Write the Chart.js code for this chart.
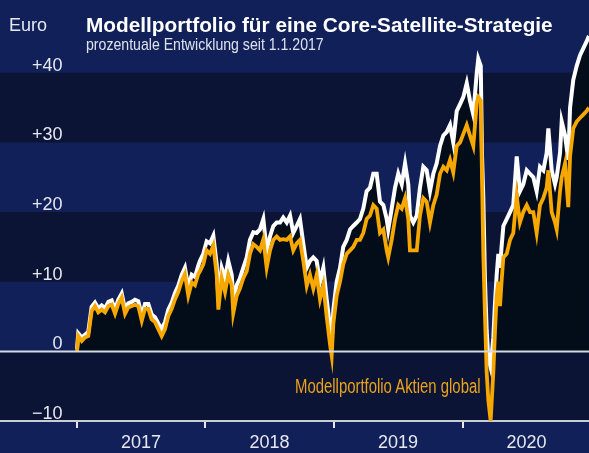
<!DOCTYPE html>
<html lang="de">
<head>
<meta charset="utf-8">
<script src="https://cdn.jsdelivr.net/npm/chart.js@4.4.1/dist/chart.umd.min.js"></script>
<style>
  html, body { margin: 0; padding: 0; background: #112058; }
  #wrap { position: relative; width: 589px; height: 453px; overflow: hidden; background: #112058; }
  #chart { position: absolute; left: 0; top: 0; }
  .txt { position: absolute; white-space: nowrap; line-height: 1; transform-origin: 0 0; }
  #euro { left: 9px; top: 15px; font: 18px "Liberation Sans", sans-serif; color: #e6e8f0; }
  #title { left: 86px; top: 13px; font: bold 21px "Liberation Sans", sans-serif; color: #ffffff; transform: scaleX(0.99); }
  #sub { left: 86px; top: 35px; font: 17px "Liberation Sans", sans-serif; color: #dfe2ec; transform: scaleX(0.83); }
  #lbl { left: 295px; top: 375px; font: 20px "Liberation Sans", sans-serif; color: #eaa21c; transform: scaleX(0.745); }
</style>
</head>
<body>
<div id="wrap">
  <canvas id="chart" width="589" height="453"></canvas>
  <div class="txt" id="euro">Euro</div>
  <div class="txt" id="title">Modellportfolio für eine Core-Satellite-Strategie</div>
  <div class="txt" id="sub">prozentuale Entwicklung seit 1.1.2017</div>
  <div class="txt" id="lbl">Modellportfolio Aktien global</div>
</div>
<script>
// Prozentuale Entwicklung seit 1.1.2017 (Zeit als Dezimaljahr)
const dates = [
  2017.000, 2017.010, 2017.037, 2017.062, 2017.088, 2017.114, 2017.140, 2017.166, 2017.192, 2017.218,
  2017.244, 2017.270, 2017.296, 2017.321, 2017.348, 2017.374, 2017.399, 2017.426, 2017.451, 2017.477,
  2017.504, 2017.529, 2017.555, 2017.581, 2017.607, 2017.633, 2017.659, 2017.685, 2017.711, 2017.737,
  2017.763, 2017.788, 2017.815, 2017.840, 2017.866, 2017.893, 2017.918, 2017.944, 2017.957, 2017.983,
  2018.009, 2018.035, 2018.061, 2018.087, 2018.100, 2018.126, 2018.152, 2018.177, 2018.204, 2018.216,
  2018.243, 2018.268, 2018.294, 2018.321, 2018.346, 2018.372, 2018.398, 2018.424, 2018.450, 2018.476,
  2018.502, 2018.528, 2018.554, 2018.580, 2018.605, 2018.632, 2018.658, 2018.683, 2018.710, 2018.735,
  2018.761, 2018.788, 2018.813, 2018.839, 2018.865, 2018.891, 2018.917, 2018.943, 2018.969, 2018.982,
  2018.995, 2019.021, 2019.047, 2019.072, 2019.099, 2019.125, 2019.150, 2019.177, 2019.202, 2019.228,
  2019.254, 2019.280, 2019.306, 2019.332, 2019.358, 2019.384, 2019.410, 2019.422, 2019.449, 2019.475,
  2019.500, 2019.527, 2019.553, 2019.578, 2019.591, 2019.617, 2019.644, 2019.669, 2019.695, 2019.721,
  2019.747, 2019.773, 2019.799, 2019.825, 2019.851, 2019.877, 2019.903, 2019.928, 2019.955, 2019.981,
  2020.006, 2020.033, 2020.058, 2020.084, 2020.111, 2020.123, 2020.142, 2020.152, 2020.162, 2020.175,
  2020.188, 2020.201, 2020.219, 2020.240, 2020.253, 2020.266, 2020.279, 2020.292, 2020.304, 2020.318,
  2020.344, 2020.370, 2020.395, 2020.422, 2020.447, 2020.473, 2020.500, 2020.525, 2020.551, 2020.577,
  2020.603, 2020.629, 2020.655, 2020.668, 2020.694, 2020.720, 2020.733, 2020.759, 2020.772, 2020.798,
  2020.823, 2020.837, 2020.862, 2020.889, 2020.914, 2020.940, 2020.966, 2020.984
];

// weisse Linie: Modellportfolio Core-Satellite
const coreSatellite = [
  0.3, 2.6, 2.0, 2.4, 2.8, 6.4, 7.0, 6.2, 6.6, 6.2,
  7.1, 7.3, 6.0, 7.4, 8.3, 6.0, 6.9, 7.1, 7.4, 7.2,
  5.1, 6.8, 6.8, 5.3, 4.9, 4.0, 3.2, 4.2, 6.0, 7.0,
  8.4, 9.4, 11.0, 12.0, 9.2, 11.0, 10.7, 12.3, 13.0, 14.0,
  15.8, 15.5, 16.6, 12.5, 7.5, 12.0, 10.5, 13.0, 11.0, 7.5,
  9.5, 10.5, 12.0, 13.5, 16.0, 17.1, 17.0, 17.5, 19.0, 14.5,
  16.5, 18.0, 18.5, 18.5, 19.2, 18.5, 19.5, 17.0, 18.0, 19.0,
  15.5, 12.0, 13.0, 13.5, 13.0, 10.0, 12.0, 7.5, 3.5, 1.4,
  6.0, 10.0, 12.0, 15.0, 16.0, 17.5, 18.0, 18.5, 19.0, 20.5,
  23.0, 23.5, 25.5, 25.5, 21.5, 21.0, 19.0, 17.5, 20.5, 23.5,
  25.5, 24.0, 27.0, 24.0, 19.5, 18.5, 19.5, 23.5, 26.5, 26.0,
  23.0, 25.5, 27.0, 29.5, 31.0, 31.5, 32.5, 30.0, 34.5, 35.5,
  36.5, 38.5, 36.0, 34.0, 40.0, 42.0, 41.0, 28.0, 22.0, 10.0,
  3.0, -1.0, -2.3, 2.0, 7.0, 11.0, 14.0, 12.0, 15.0, 18.0,
  19.0, 20.0, 21.0, 28.0, 23.0, 24.0, 26.0, 25.5, 25.0, 23.0,
  26.5, 26.0, 28.5, 32.0, 26.0, 24.0, 25.0, 28.5, 33.0, 31.0,
  27.5, 35.0, 39.0, 41.0, 42.5, 43.5, 44.5, 45.3
];

// orange Linie: Modellportfolio Aktien global
const aktienGlobal = [
  0.0, 2.2, 1.5, 2.0, 2.2, 5.8, 6.5, 5.6, 6.0, 5.6,
  6.5, 6.7, 5.4, 6.8, 7.7, 5.4, 6.3, 6.5, 6.7, 6.5,
  4.4, 6.1, 6.1, 4.6, 4.2, 3.2, 2.2, 3.2, 5.1, 6.1,
  7.5, 8.5, 10.1, 11.1, 8.0, 9.9, 9.5, 11.1, 11.5, 12.5,
  14.5, 14.0, 15.2, 11.0, 6.0, 10.5, 8.5, 11.0, 9.5, 5.5,
  8.0, 9.0, 10.5, 11.5, 14.0, 15.4, 15.0, 14.5, 16.1, 12.0,
  14.5, 16.0, 16.5, 16.0, 16.1, 16.0, 16.5, 14.5, 15.5, 16.0,
  13.0, 9.4, 11.0, 9.0, 11.0, 7.5, 9.5, 5.0, 1.0, -0.6,
  4.0, 8.0, 10.0, 12.5, 14.0, 14.5, 15.0, 16.0, 16.0, 17.0,
  19.0, 19.5, 21.0, 20.5, 17.0, 17.5, 14.5, 13.5, 16.0, 19.0,
  21.0, 20.5, 22.0, 19.0, 14.5, 14.5, 14.5, 19.5, 22.0, 21.5,
  18.5, 21.0, 22.5, 25.5, 26.5, 26.0, 27.5, 25.7, 29.5, 30.0,
  31.2, 32.5, 31.0, 29.5, 35.7, 36.5, 36.0, 24.7, 14.0, 5.0,
  -3.0, -7.0, -10.0, -3.0, 3.0, 8.0, 10.0, 6.5, 10.0, 13.5,
  14.0, 16.0, 17.0, 22.3, 18.5, 20.0, 21.0, 20.0, 20.0, 17.0,
  21.0, 22.0, 23.5, 26.0, 20.0, 18.5, 17.5, 23.0, 25.0, 27.0,
  20.7, 28.0, 32.0, 33.0, 33.5, 34.0, 34.5, 35.0
];

const yearTicks = [2017, 2018, 2019, 2020];
const yTicks = [-10, 0, 10, 20, 30, 40];

// dunkle Querstreifen hinter dem Chart, Nulllinie darüber
const bandsPlugin = {
  id: 'bands',
  beforeDraw(chart) {
    const { ctx, width, scales: { y } } = chart;
    ctx.save();
    ctx.fillStyle = '#0b1434';
    [[30, 40], [10, 20], [-10, 0]].forEach(([lo, hi]) => {
      const top = y.getPixelForValue(hi);
      const bot = y.getPixelForValue(lo);
      ctx.fillRect(0, top, width, bot - top);
    });
    ctx.restore();
  },
  afterDatasetsDraw(chart) {
    const { ctx, width, scales: { y } } = chart;
    const py = Math.round(y.getPixelForValue(0)) + 0.5;
    ctx.save();
    ctx.strokeStyle = '#d4d8e4';
    ctx.lineWidth = 2;
    ctx.beginPath();
    ctx.moveTo(0, py);
    ctx.lineTo(width, py);
    ctx.stroke();
    ctx.restore();
  }
};

const toPoints = arr => dates.map((x, i) => ({ x, y: arr[i] }));

new Chart(document.getElementById('chart'), {
  type: 'line',
  data: {
    datasets: [
      { label: 'Modellportfolio Core-Satellite', data: toPoints(coreSatellite), borderColor: '#ffffff', borderWidth: 4,
        fill: 'origin', backgroundColor: '#030c19', pointRadius: 0, tension: 0, order: 2 },
      { label: 'Modellportfolio Aktien global', data: toPoints(aktienGlobal), borderColor: '#f7a800', borderWidth: 3.8,
        fill: false, pointRadius: 0, tension: 0, order: 1 },
    ],
  },
  options: {
    responsive: false,
    animation: false,
    devicePixelRatio: 1,
    layout: { padding: 0 },
    plugins: { legend: { display: false }, tooltip: { enabled: false } },
    scales: {
      x: {
        type: 'linear',
        min: 2016.4008,
        max: 2020.9844,
        afterBuildTicks: s => { s.ticks = yearTicks.map(v => ({ value: v })); },
        afterFit: s => { s.height = 32; s.paddingLeft = 0; s.paddingRight = 0; },
        grid: { drawOnChartArea: false, drawTicks: true, tickLength: 7, color: '#e8eaf0', lineWidth: 2 },
        border: { display: true, color: '#c9cdd8', width: 2 },
        ticks: {
          color: '#e6e8f0', font: { family: 'Liberation Sans', size: 18 },
          labelOffset: 64, padding: 4, maxRotation: 0, autoSkip: false,
          callback: v => String(v),
        },
      },
      y: {
        min: -10,
        max: 50.45,
        afterBuildTicks: s => { s.ticks = yTicks.map(v => ({ value: v })); },
        // labels sit inside the plot; keep them from shrinking the chart area
        afterFit: s => { s.width = 0; s.paddingTop = 0; s.paddingBottom = 0; },
        grid: { display: false },
        border: { display: false },
        ticks: {
          mirror: true, crossAlign: 'far', padding: 32, labelOffset: -7,
          color: '#e6e8f0', font: { family: 'Liberation Sans', size: 18 },
          callback: v => v > 0 ? '+' + v : v < 0 ? '\u2212' + Math.abs(v) : '0',
        },
      },
    },
  },
  plugins: [bandsPlugin],
});
</script>
</body>
</html>
